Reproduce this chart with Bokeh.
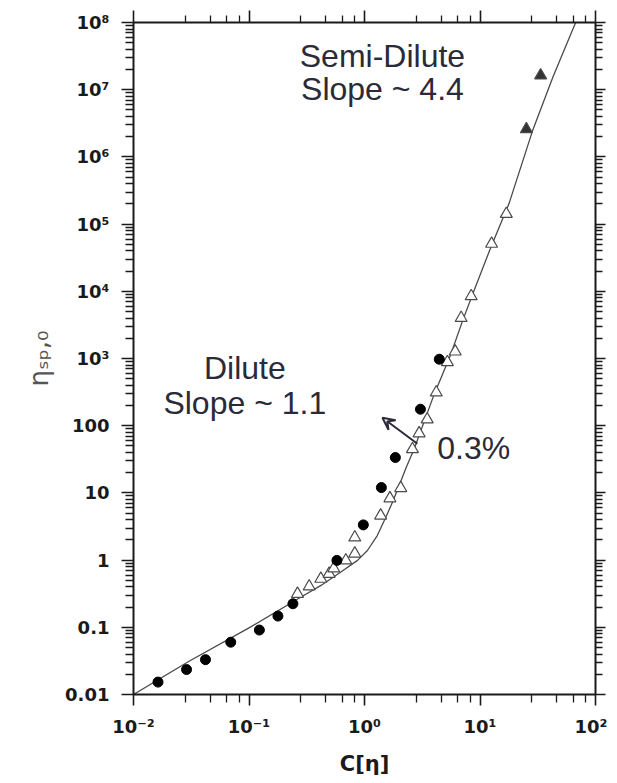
from bokeh.plotting import figure
from bokeh.models import LogAxis, FixedTicker, Label, Arrow, VeeHead, Range1d, CustomJSTickFormatter
from bokeh.embed import file_html
from bokeh.resources import INLINE

# ---------------- data ----------------
circle_x = [0.0163, 0.0288, 0.042, 0.0695, 0.123, 0.178, 0.24, 0.577, 0.977, 1.40, 1.85, 3.05, 4.44]
circle_y = [0.0153, 0.0235, 0.033, 0.060, 0.091, 0.147, 0.224, 0.99, 3.34, 12.0, 33.6, 176, 975]

tri_x = [0.263, 0.332, 0.419, 0.494, 0.542, 0.689, 0.824, 0.824, 1.38, 1.66, 2.06,
         2.60, 2.97, 3.49, 4.18, 5.22, 6.10, 6.87, 8.39, 12.6, 16.9]
tri_y = [0.315, 0.405, 0.527, 0.625, 0.75, 0.987, 1.25, 2.17, 4.6, 8.3, 11.8,
         44.7, 77, 124, 312, 881, 1270, 4010, 8450, 50900, 142000]

tri_dark_x = [25.2, 33.5]
tri_dark_y = [2.58e6, 1.63e7]

line_x = [0.01, 0.03, 0.1, 0.28, 0.42, 0.62, 0.87, 1.06, 1.29, 1.53, 1.75, 2.0, 2.3,
          2.69, 4.0, 5.58, 7.05, 8.6, 12.4, 17.8, 28.4, 42.8, 67.3]
line_y = [0.01, 0.031, 0.098, 0.28, 0.42, 0.66, 0.99, 1.39, 2.32, 4.35, 7.3, 13, 24,
          45, 290, 1150, 3600, 8900, 45000, 200000, 2.4e6, 1.55e7, 1e8]

x_ticks = [0.01, 0.1, 1, 10, 100]
x_tick_labels = ["10\u207b\u00b2", "10\u207b\u00b9", "10\u2070", "10\u00b9", "10\u00b2"]
y_ticks = [0.01, 0.1, 1, 10, 100, 1e3, 1e4, 1e5, 1e6, 1e7, 1e8]
y_tick_labels = ["0.01", "0.1", "1", "10", "100", "10\u00b3", "10\u2074", "10\u2075",
                 "10\u2076", "10\u2077", "10\u2078"]

x_minor = [d * m for d in [0.01, 0.1, 1, 10] for m in [2.8, 4.6, 6.4, 8.2]]
y_minor = [d * m for d in [0.01, 0.1, 1, 10, 100, 1e3, 1e4, 1e5, 1e6, 1e7]
           for m in [2, 3, 4, 5, 6, 7, 8, 9]]

x_title = "C[\u03b7]"
y_title = "\u03b7\u209b\u209a,\u2080"

# annotation texts / positions (data coordinates)
semi_text = ["Semi-Dilute", "Slope ~ 4.4"]
semi_pos = [(1.43, 3.2e7), (1.43, 1.04e7)]
dil_text = ["Dilute", "Slope ~ 1.1"]
dil_pos = [(0.092, 710), (0.092, 214)]
pct_text = "0.3%"
pct_pos = (4.26, 46)
arrow_start = (2.87, 53.8)
arrow_end = (1.43, 131)

TXT = "#2a2a38"
AX = "#1a1a1a"

p = figure(x_axis_type="log", y_axis_type="log",
           x_range=Range1d(0.01, 100), y_range=Range1d(0.01, 1e8),
           frame_width=462, frame_height=672,
           min_border_left=133, min_border_top=22, min_border_right=12, min_border_bottom=86,
           output_backend="svg", toolbar_location=None)
p.grid.visible = False
p.outline_line_color = None
p.background_fill_color = "white"
p.border_fill_color = "white"

FMT_CODE = """
const lt = Math.log10(tick);
let best = 0, bd = 1e9;
for (let i = 0; i < tk.length; i++) {
  const d = Math.abs(Math.log10(tk[i]) - lt);
  if (d < bd) { bd = d; best = i; }
}
return lb[best];
"""


def style_axis(ax, ticks, minor, labels, show_labels, out_major, out_minor):
    ax.ticker = FixedTicker(ticks=ticks, minor_ticks=minor)
    ax.axis_line_width = 2
    ax.axis_line_color = AX
    ax.major_tick_in = 0
    ax.major_tick_out = out_major
    ax.minor_tick_in = 0
    ax.minor_tick_out = out_minor
    ax.major_tick_line_width = 1.6
    ax.major_tick_line_color = AX
    ax.minor_tick_line_width = 1.3
    ax.minor_tick_line_color = AX
    if show_labels:
        ax.formatter = CustomJSTickFormatter(args=dict(tk=ticks, lb=labels), code=FMT_CODE)
        ax.major_label_text_font = "DejaVu Sans"
        ax.major_label_text_font_style = "bold"
        ax.major_label_text_font_size = "18px"
        ax.major_label_text_color = AX
    else:
        ax.major_label_text_font_size = "2px"
        ax.major_label_text_alpha = 0
        ax.major_label_standoff = 0


xb = p.xaxis[0]
style_axis(xb, x_ticks, x_minor, x_tick_labels, True, 11, 8)
xb.major_label_standoff = 10
xb.axis_label = x_title
xb.axis_label_text_font = "DejaVu Sans"
xb.axis_label_text_font_style = "bold"
xb.axis_label_text_font_size = "21px"
xb.axis_label_text_color = AX
xb.axis_label_standoff = 12

yl = p.yaxis[0]
style_axis(yl, y_ticks, y_minor, y_tick_labels, True, 12, 8)
yl.major_label_standoff = 12
yl.axis_label = y_title
yl.axis_label_text_font = "DejaVu Sans"
yl.axis_label_text_font_style = "normal"
yl.axis_label_text_font_size = "26px"
yl.axis_label_text_color = "#555555"
yl.axis_label_standoff = 8

xt = LogAxis()
style_axis(xt, x_ticks, x_minor, x_tick_labels, False, 12, 7)
p.add_layout(xt, "above")

yr = LogAxis()
style_axis(yr, y_ticks, y_minor, y_tick_labels, False, 10, 7)
p.add_layout(yr, "right")

# data
p.line(line_x, line_y, line_color="#4a4a4a", line_width=1.3)
p.scatter(tri_x, tri_y, marker="triangle", size=12, fill_color="white",
          line_color="#4a4a4a", line_width=1.2)
p.scatter(tri_dark_x, tri_dark_y, marker="triangle", size=12, fill_color="#333333",
          line_color="#4a4a4a", line_width=1.2)
p.scatter(circle_x, circle_y, marker="circle", size=10, fill_color="black",
          line_color="black")

# annotations
for t, (x, y) in zip(semi_text + dil_text, semi_pos + dil_pos):
    p.add_layout(Label(x=x, y=y, text=t, text_align="center", text_baseline="alphabetic",
                       text_font="Liberation Sans", text_font_size="32px", text_color=TXT))
p.add_layout(Label(x=pct_pos[0], y=pct_pos[1], text=pct_text, text_align="left",
                   text_baseline="alphabetic", text_font="Liberation Sans",
                   text_font_size="32px", text_color=TXT))
p.add_layout(Arrow(end=VeeHead(size=12, line_color=TXT, line_width=2, fill_color=None),
                   x_start=arrow_start[0], y_start=arrow_start[1],
                   x_end=arrow_end[0], y_end=arrow_end[1],
                   line_color=TXT, line_width=2))

open("out.html", "w").write(file_html(p, INLINE))
